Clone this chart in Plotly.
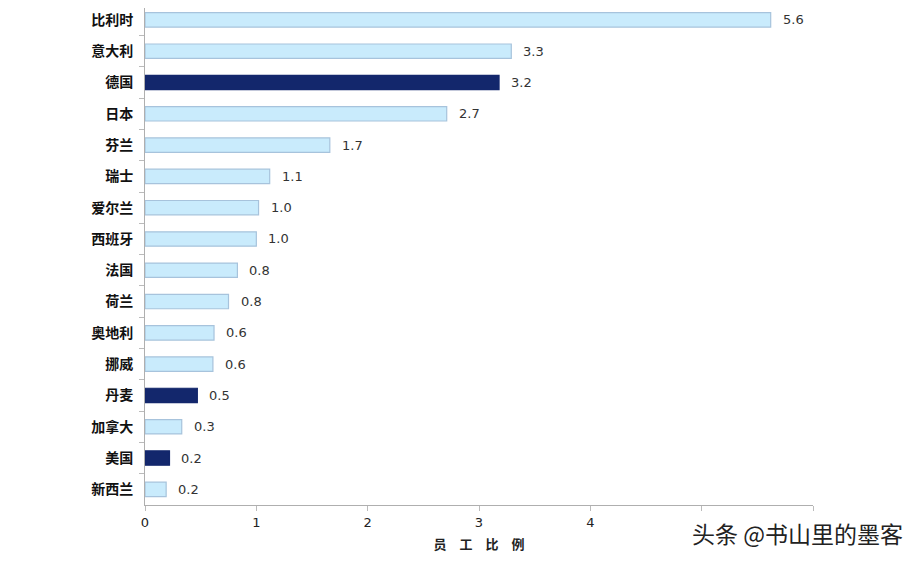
import plotly.graph_objects as go

countries = ["比利时", "意大利", "德国", "日本", "芬兰", "瑞士", "爱尔兰", "西班牙",
             "法国", "荷兰", "奥地利", "挪威", "丹麦", "加拿大", "美国", "新西兰"]
values = [5.62, 3.29, 3.18, 2.71, 1.66, 1.12, 1.02, 1.0,
          0.83, 0.75, 0.62, 0.61, 0.47, 0.33, 0.22, 0.19]
labels = ["5.6", "3.3", "3.2", "2.7", "1.7", "1.1", "1.0", "1.0",
          "0.8", "0.8", "0.6", "0.6", "0.5", "0.3", "0.2", "0.2"]
highlight = ["德国", "丹麦", "美国"]
x_ticks = [0, 1, 2, 3, 4, 5, 6]
x_ticktext = ["0", "1", "2", "3", "4", "", ""]
x_title = "员 工 比 例"
watermark = "头条 @书山里的墨客"

light_fill = "#C9EBFC"
light_line = "#A7C3DC"
dark_fill = "#13276C"

fills = [dark_fill if c in highlight else light_fill for c in countries]
lines = [dark_fill if c in highlight else light_line for c in countries]

fig = go.Figure()
fig.add_trace(go.Bar(
    x=values, y=countries, orientation="h",
    marker=dict(color=fills, line=dict(color=lines, width=1.2)),
    width=0.46, hoverinfo="skip",
))

for c, v, t in zip(countries, values, labels):
    fig.add_annotation(x=v, y=c, text=t, showarrow=False, xanchor="left",
                       xshift=10, font=dict(family="DejaVu Sans", size=13, color="#333333"))

fig.add_annotation(x=1.0, y=0, xref="paper", yref="paper", text=watermark,
                   showarrow=False, xanchor="right", yanchor="middle",
                   xshift=92, yshift=-28,
                   font=dict(family="Noto Sans CJK SC", size=23, color="#222222"))

fig.update_layout(
    width=914, height=553,
    margin=dict(l=137, r=109, t=0, b=56),
    paper_bgcolor="white", plot_bgcolor="white",
    showlegend=False, bargap=0.5,
)
fig.update_xaxes(
    range=[0, 6], tickvals=x_ticks, ticktext=x_ticktext,
    showgrid=False, zeroline=False, showline=True, linecolor="#AFAFAF", linewidth=1,
    ticks="outside", ticklen=5, tickcolor="#BBBBBB",
    tickfont=dict(family="DejaVu Sans", size=13, color="#222222"),
    title=dict(text=x_title.replace(" ", "\u2003"), standoff=11,
               font=dict(family="Noto Sans CJK SC", size=13, color="#222222", weight="bold")),
)
fig.update_yaxes(
    range=[len(countries) - 0.5, -0.38], showgrid=False, showline=True,
    linecolor="#AFAFAF", linewidth=1,
    ticks="outside", ticklen=5, tickcolor="#BBBBBB", tickson="boundaries",
    tickfont=dict(family="Noto Sans CJK SC", size=14, color="#111111", weight="bold"),
    ticklabelstandoff=8,
)

fig.write_html("out.html")
